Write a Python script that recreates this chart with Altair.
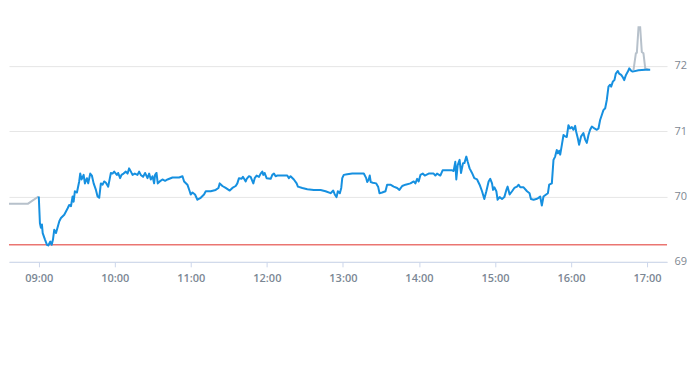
import altair as alt
import pandas as pd

# minutes after 09:00 and prices
pre_min = [-29.0, -28.2, -8.5, -0.2]
pre_val = [69.34, 69.89, 69.89, 70.0]

main_min = [0.0, 0.9, 1.7, 2.5, 3.1, 4.9, 6.5, 7.5, 9.1, 10.2, 11.2, 12.2, 13.6, 16.2, 17.5, 20.1, 22.8, 24.0, 25.4, 26.7,
            27.5, 28.5, 30.1, 31.9, 32.7, 33.8, 35.4, 36.4, 38.0, 39.0, 40.6, 41.9, 43.3, 45.1, 46.4, 47.7, 49.0, 50.4, 51.6, 53.0,
            54.8, 56.9, 58.2, 59.5, 61.6, 62.6, 64.2, 65.3, 66.9, 68.7, 70.1, 71.3, 72.7, 74.0, 75.8, 77.9, 79.2, 80.5, 82.3, 83.9,
            85.8, 87.1, 88.4, 89.8, 91.0, 91.8, 92.9, 93.9, 95.5, 97.6, 99.7, 101.6, 105.5, 110.7, 113.4, 114.7, 117.3, 119.1, 119.9, 121.3,
            123.3, 125.2, 127.8, 130.4, 131.8, 135.7, 139.6, 141.8, 142.8, 144.9, 147.5, 150.7, 152.8, 155.4, 156.7, 158.0, 160.1, 161.1, 163.3,
            164.1, 165.9, 167.2, 169.3, 170.4, 171.9, 173.8, 175.1, 176.4, 177.2, 178.2, 179.8, 183.0, 184.3, 185.6, 186.9, 188.3, 196.1,
            197.4, 198.7, 201.3, 203.5, 204.5, 208.0, 211.9, 217.1, 222.4, 226.3, 230.3, 232.4, 233.6, 235.0, 236.0, 237.6, 238.7, 239.5,
            240.7, 243.4, 247.4, 256.5, 258.4, 259.2, 260.4, 261.2, 262.0, 263.6, 266.3, 267.8, 268.9, 271.0, 273.6, 274.9, 277.5, 280.1,
            282.8, 284.6, 286.8, 289.4, 293.3, 295.9, 297.2, 298.6, 299.8, 301.2, 303.0, 304.6, 307.7, 311.6, 313.0, 314.3, 316.9, 318.7,
            326.2, 327.4, 328.7, 329.5, 330.6, 332.1, 333.2, 334.8, 335.9, 337.4, 338.5, 340.0, 341.9, 343.7, 345.9, 347.9, 349.8, 351.6,
            353.2, 355.0, 356.3, 357.7, 358.5, 359.5, 361.1, 362.1, 363.7, 365.6, 367.4, 369.0, 370.0, 371.6, 373.5, 375.3, 377.4, 378.7,
            380.0, 382.6, 385.3, 387.3, 388.4, 390.5, 392.6, 394.4, 395.7, 397.0, 398.3, 400.4, 401.8, 402.8, 404.9, 406.2, 407.5, 408.8,
            409.7, 410.7, 411.5, 412.8, 414.1, 415.4, 416.7, 418.0, 419.3, 420.7, 421.9, 423.3, 424.1, 425.4, 426.4, 428.0, 429.8, 431.2,
            432.5, 433.8, 435.1, 436.5, 438.5, 440.4, 441.7, 443.0, 444.4, 445.6, 447.0, 448.3, 449.6, 450.9, 451.7, 453.1, 454.3, 455.4,
            457.0, 458.0, 459.6, 460.7, 462.0, 463.4, 464.9, 466.0, 467.6, 468.6, 473.3, 478.6, 482.5]
main_val = [70.0, 69.59, 69.52, 69.57, 69.44, 69.34, 69.26, 69.25, 69.31, 69.26, 69.34, 69.49, 69.44, 69.62, 69.67, 69.72, 69.82, 69.87, 69.85, 70.0,
            69.92, 70.08, 70.06, 70.23, 70.35, 70.26, 70.33, 70.2, 70.28, 70.2, 70.35, 70.32, 70.2, 70.1, 70.0, 69.98, 70.2, 70.18, 70.23, 70.21,
            70.15, 70.36, 70.35, 70.38, 70.33, 70.36, 70.28, 70.33, 70.35, 70.38, 70.35, 70.43, 70.38, 70.33, 70.35, 70.33, 70.38, 70.33, 70.3, 70.36,
            70.28, 70.35, 70.26, 70.31, 70.2, 70.33, 70.36, 70.2, 70.23, 70.26, 70.24, 70.26, 70.29, 70.29, 70.31, 70.23, 70.18, 70.08, 70.03, 70.06,
            70.03, 69.95, 69.98, 70.03, 70.08, 70.08, 70.1, 70.13, 70.2, 70.16, 70.13, 70.09, 70.13, 70.16, 70.2, 70.28, 70.27, 70.3, 70.23,
            70.27, 70.31, 70.3, 70.2, 70.28, 70.32, 70.3, 70.35, 70.38, 70.33, 70.36, 70.28, 70.27, 70.33, 70.35, 70.31, 70.32, 70.32,
            70.28, 70.31, 70.26, 70.2, 70.15, 70.13, 70.11, 70.1, 70.1, 70.08, 70.05, 70.09, 70.03, 69.99, 70.08, 70.05, 70.13, 70.28,
            70.33, 70.34, 70.35, 70.35, 70.28, 70.22, 70.26, 70.32, 70.22, 70.21, 70.2, 70.15, 70.05, 70.06, 70.08, 70.18, 70.18, 70.15,
            70.13, 70.1, 70.16, 70.18, 70.2, 70.23, 70.2, 70.27, 70.23, 70.33, 70.35, 70.32, 70.35, 70.35, 70.32, 70.35, 70.32, 70.4,
            70.4, 70.39, 70.53, 70.26, 70.48, 70.56, 70.36, 70.51, 70.51, 70.61, 70.53, 70.43, 70.36, 70.28, 70.26, 70.18, 70.08, 69.96,
            70.08, 70.23, 70.27, 70.2, 70.1, 70.14, 70.08, 69.95, 69.99, 69.96, 69.99, 70.1, 70.15, 70.03, 70.08, 70.13, 70.15, 70.18,
            70.14, 70.14, 70.08, 70.05, 69.96, 69.95, 69.96, 69.98, 70.0, 69.86, 70.0, 70.03, 70.05, 70.18, 70.2, 70.56, 70.61, 70.71,
            70.66, 70.7, 70.64, 70.79, 70.94, 70.92, 70.91, 71.09, 71.04, 71.06, 71.02, 71.08, 70.99, 70.89, 70.79, 70.92, 70.97, 70.87,
            70.82, 70.94, 71.02, 71.07, 71.04, 71.02, 71.04, 71.17, 71.25, 71.32, 71.35, 71.48, 71.68, 71.71, 71.68, 71.76, 71.78, 71.88,
            71.92, 71.88, 71.86, 71.83, 71.78, 71.86, 71.91, 71.96, 71.92, 71.91, 71.93, 71.94, 71.94]

post_min = [469.3, 471.2, 472.0, 473.3, 474.6, 475.9, 477.2, 478.6, 481.2]
post_val = [71.93, 72.19, 72.2, 72.59, 72.59, 72.21, 72.19, 71.96, 71.94]

prev_close = [69.26]
y_ticks = [69, 70, 71, 72]
x_tick_hours = [9, 10, 11, 12, 13, 14, 15, 16, 17]

BASE = pd.Timestamp("2024-01-02 09:00:00")


def frame(mins, vals):
    return pd.DataFrame({"t": [BASE + pd.Timedelta(minutes=m) for m in mins], "v": vals})


pre_df = frame(pre_min, pre_val)
main_df = frame(main_min, main_val)
post_df = frame(post_min, post_val)

x_scale = alt.Scale(domain=[alt.DateTime(year=2024, month=1, date=2, hours=8, minutes=36, seconds=30),
                            alt.DateTime(year=2024, month=1, date=2, hours=17, minutes=15, seconds=48)])
y_scale = alt.Scale(domain=[69, 72.88], nice=False, zero=False)

x_axis = alt.Axis(values=[alt.DateTime(year=2024, month=1, date=2, hours=h) for h in x_tick_hours],
                  format="%H:%M", title=None, grid=False, domainColor="#ccd6eb", tickColor="#ccd6eb",
                  tickSize=5, labelPadding=6, labelFont="Open Sans", labelFontSize=11, labelFontWeight=600,
                  labelColor="#7b8794")
y_axis = alt.Axis(orient="right", values=y_ticks, format="d", title=None, grid=True, gridColor="#e6e6e6",
                  domain=False, ticks=False, labelPadding=7, labelFont="Open Sans", labelFontSize=11,
                  labelColor="#808892", labelBaseline="middle")

gray = "#b7c1cb"
blue = "#1690e0"

pre = alt.Chart(pre_df).mark_line(color=gray, strokeWidth=2, clip=True).encode(
    x=alt.X("t:T", scale=x_scale, axis=x_axis), y=alt.Y("v:Q", scale=y_scale, axis=y_axis))
post = alt.Chart(post_df).mark_line(color=gray, strokeWidth=2, clip=True).encode(
    x=alt.X("t:T", scale=x_scale), y=alt.Y("v:Q", scale=y_scale))
main = alt.Chart(main_df).mark_line(color=blue, strokeWidth=2, clip=True, strokeJoin="round").encode(
    x=alt.X("t:T", scale=x_scale), y=alt.Y("v:Q", scale=y_scale))
rule = alt.Chart(pd.DataFrame({"v": prev_close})).mark_rule(color="#e0302a", strokeWidth=1).encode(
    y=alt.Y("v:Q", scale=y_scale))

chart = alt.layer(rule, pre, post, main).properties(width=659, height=254, padding=0).configure_view(
    stroke=None)

chart.save("out.html", embed_options={"renderer": "svg", "actions": False})
